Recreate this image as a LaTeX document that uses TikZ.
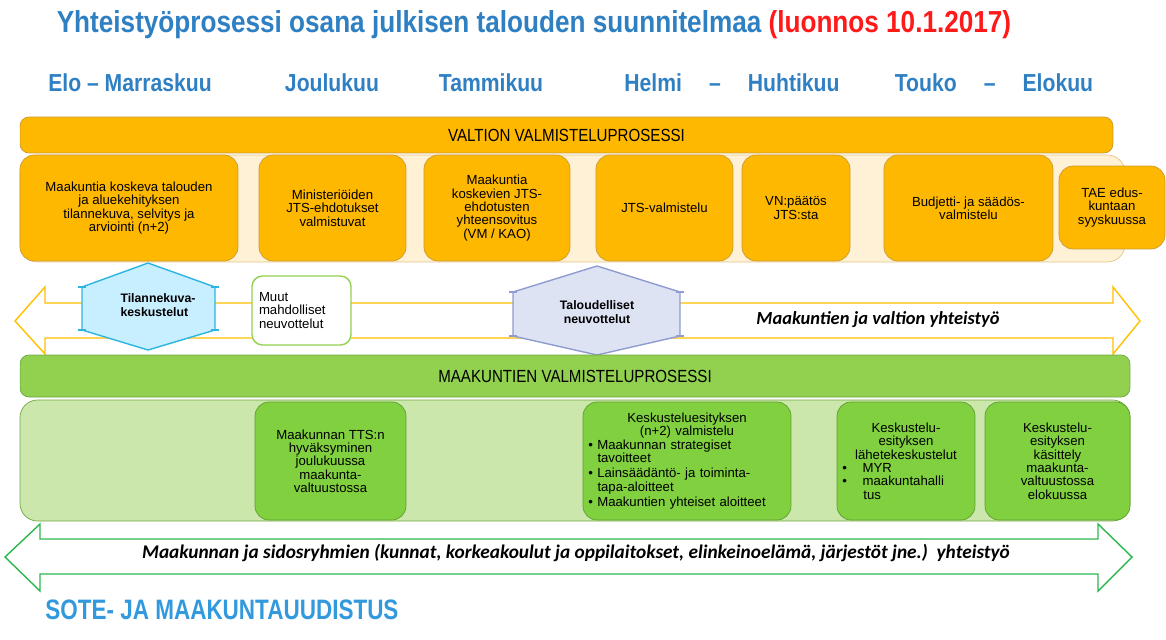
\documentclass[tikz,border=0pt]{standalone}
\usepackage{fontspec}
\setmainfont{Liberation Sans}
\newfontfamily\narrowfont[FakeStretch=0.86]{Liberation Sans}
\newfontfamily\sotefont[FakeStretch=0.8]{Liberation Sans}
\newfontfamily\carlito{Carlito}

\definecolor{titleblue}{HTML}{2F80C3}
\definecolor{titlered}{HTML}{FF1A1A}
\definecolor{sotblue}{HTML}{3399DD}
\definecolor{orangefill}{HTML}{FFB800}
\definecolor{orangeline}{HTML}{C99A2E}
\definecolor{creamfill}{HTML}{FFF1D6}
\definecolor{creamline}{HTML}{E2C488}
\definecolor{barfill}{HTML}{92D050}
\definecolor{barline}{HTML}{6FA83F}
\definecolor{lightgreen}{HTML}{CBE7AC}
\definecolor{greenfill}{HTML}{80D040}
\definecolor{greenline}{HTML}{5E9E30}
\definecolor{cyanfill}{HTML}{C7EFFF}
\definecolor{cyanline}{HTML}{2CB5E0}
\definecolor{lavfill}{HTML}{DEE3F4}
\definecolor{lavline}{HTML}{8E9CCF}
\definecolor{yellowline}{HTML}{FFC000}
\definecolor{arrowgreen}{HTML}{2DB84D}

\begin{document}
\begin{tikzpicture}[x=0.02cm,y=-0.02cm,
  smalltext/.style={font=\fontsize{7.5}{7.6}\selectfont},
  obox/.style={smalltext, draw=orangeline, fill=orangefill, rounded corners=8pt, align=center, inner sep=1pt, minimum height=2.12cm},
  gbox/.style={smalltext, draw=greenline, fill=greenfill, rounded corners=8pt, align=center, inner sep=1pt, minimum height=2.36cm},
  bar/.style={rounded corners=5pt, font=\narrowfont\fontsize{10}{12}\selectfont},
  month/.style={text=titleblue, font=\narrowfont\bfseries\fontsize{14}{16}\selectfont},
  coop/.style={font=\carlito\bfseries\itshape\fontsize{10.5}{12}\selectfont}]

\useasboundingbox (0,0) rectangle (1166,639);

% otsikko ja kuukaudet
\node[text=titleblue, font=\narrowfont\bfseries\fontsize{17.3}{20}\selectfont] (title) at (534,25)
  {Yhteistyöprosessi osana julkisen talouden suunnitelmaa \textcolor{titlered}{(luonnos 10.1.2017)}};

\node[month] (elo) at (130,83) {Elo – Marraskuu};
\node[month] (joulu) at (332,83) {Joulukuu};
\node[month] (tammi) at (491,83) {Tammikuu};
\node[month] (helmi) at (732,83) {Helmi\hspace{1.1em}–\hspace{1.1em}Huhtikuu};
\node[month] (touko) at (994,83) {Touko\hspace{1.1em}–\hspace{1.1em}Elokuu};

% valtion valmisteluprosessi
\draw[creamline, fill=creamfill, rounded corners=10pt] (20,155) rectangle (1125,262);
\node[bar, draw=orangeline, fill=orangefill, minimum width=21.86cm, minimum height=0.72cm] (valtio) at (566.5,135) {VALTION VALMISTELUPROSESSI};

\node[obox, minimum width=4.36cm] (tilanne) at (129,208) {Maakuntia koskeva talouden\\ja aluekehityksen\\tilannekuva, selvitys ja\\arviointi (n+2)};
\node[obox, minimum width=2.94cm] (ministeriot) at (332.5,208) {Ministeriöiden\\JTS-ehdotukset\\valmistuvat};
\node[obox, minimum width=2.92cm] (yhteensovitus) at (497,208) {Maakuntia\\koskevien JTS-\\ehdotusten\\yhteensovitus\\(VM / KAO)};
\node[obox, minimum width=2.74cm] (jts) at (664.5,208) {JTS-valmistelu};
\node[obox, minimum width=2.16cm] (vnpaatos) at (796,208) {VN:päätös\\JTS:sta};
\node[obox, minimum width=3.38cm] (budjetti) at (968.5,208) {Budjetti- ja säädös-\\valmistelu};
\node[obox, minimum width=2.12cm, minimum height=1.66cm] (tae) at (1112,207.5) {TAE edus-\\kuntaan\\syyskuussa};

% maakuntien ja valtion yhteistyo
\draw[yellowline, thick, fill=white] (15,321) -- (45,287) -- (45,303) -- (1113,303) -- (1113,287)
  -- (1140,321) -- (1113,354) -- (1113,338) -- (45,338) -- (45,354) -- cycle;

\draw[cyanline, thick, fill=cyanfill] (148,263) -- (215,287) -- (215,330) -- (148,350) -- (82,330) -- (82,287) -- cycle;
\draw[cyanline, thick] (78,287) -- (86,287) (78,330) -- (86,330) (211,287) -- (219,287) (211,330) -- (219,330);
\node[smalltext, font=\bfseries\fontsize{7}{8.2}\selectfont, align=left] (tilannekuva) at (158,305) {Tilannekuva-\\keskustelut};

\node[smalltext, draw=barfill, thick, fill=white, rounded corners=6pt, align=left, text width=1.7cm,
  minimum width=1.98cm, minimum height=1.38cm] (muut) at (301.5,310.5) {Muut\\mahdolliset\\neuvottelut};

\draw[lavline, thick, fill=lavfill] (597,266) -- (680,292) -- (680,336) -- (597,355) -- (513,336) -- (513,292) -- cycle;
\draw[lavline, thick] (509,292) -- (517,292) (509,336) -- (517,336) (676,292) -- (684,292) (676,336) -- (684,336);
\node[smalltext, font=\bfseries\fontsize{7}{8.2}\selectfont, align=center] (taloudelliset) at (597,312) {Taloudelliset\\neuvottelut};

\node[coop] (valtioyht) at (878,320) {Maakuntien ja valtion yhteistyö};

% maakuntien valmisteluprosessi
\draw[barline, fill=lightgreen, rounded corners=10pt] (20,400) rectangle (1130,521);
\node[bar, draw=barline, fill=barfill, minimum width=22.2cm, minimum height=0.84cm] (maakunnat) at (575,376) {MAAKUNTIEN VALMISTELUPROSESSI};

\node[gbox, minimum width=3.02cm] (tts) at (330.5,461) {Maakunnan TTS:n\\hyväksyminen\\joulukuussa\\maakunta-\\valtuustossa};
\node[gbox, minimum width=4.16cm, text width=3.95cm, align=left] (esitys) at (687,461)
  {\centering Keskusteluesityksen\\(n+2) valmistelu\par
   \raggedright\textbullet\ Maakunnan strategiset\\\hspace*{0.7em}tavoitteet\\[1pt]
   \textbullet\ Lainsäädäntö- ja toiminta-\\\hspace*{0.7em}tapa-aloitteet\\[1pt]
   \textbullet\ Maakuntien yhteiset aloitteet};
\node[gbox, minimum width=2.76cm, text width=2.55cm, align=left] (lahete) at (906,461)
  {\centering Keskustelu-\\esityksen\\lähetekeskustelut\par
   \raggedright\textbullet\hspace{1.2em}MYR\\
   \textbullet\hspace{1.2em}maakuntahalli\\\hspace*{1.6em}tus};
\node[gbox, minimum width=2.9cm] (kasittely) at (1057.5,461) {Keskustelu-\\esityksen\\käsittely\\maakunta-\\valtuustossa\\elokuussa};

% sidosryhmat
\draw[arrowgreen, thick, fill=white] (5,557) -- (40,524) -- (40,539) -- (1098,539) -- (1098,524)
  -- (1132,557) -- (1098,591) -- (1098,574) -- (40,574) -- (40,591) -- cycle;
\node[coop, font=\carlito\bfseries\itshape\fontsize{11}{12}\selectfont] (sidos) at (576,553) {Maakunnan ja sidosryhmien (kunnat, korkeakoulut ja oppilaitokset, elinkeinoelämä, järjestöt jne.)\ \ yhteistyö};

\node[anchor=west, inner sep=0pt, text=sotblue, font=\sotefont\bfseries\fontsize{16}{18}\selectfont] (sote) at (45,610) {SOTE- JA MAAKUNTAUUDISTUS};
\end{tikzpicture}
\end{document}
